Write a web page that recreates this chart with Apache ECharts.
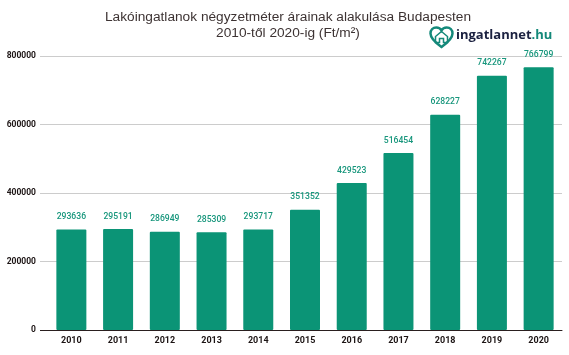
<!DOCTYPE html>
<html>
<head>
<meta charset="utf-8">
<script src="https://cdn.jsdelivr.net/npm/echarts@6/dist/echarts.min.js"></script>
<style>
  html, body { margin: 0; padding: 0; background: #fff; }
  #chart { width: 569px; height: 355px; }
</style>
</head>
<body>
<div id="chart"></div>
<script>
const years = ["2010", "2011", "2012", "2013", "2014", "2015", "2016", "2017", "2018", "2019", "2020"];
const prices = [293636, 295191, 286949, 285309, 293717, 351352, 429523, 516454, 628227, 742267, 766799];
const yTicks = [0, 200000, 400000, 600000, 800000];
const titleLines = ["Lakóingatlanok négyzetméter árainak alakulása Budapesten", "2010-től 2020-ig (Ft/m²)"];

// logo outlines
echarts.graphic.registerShape("logoHeart", echarts.graphic.extendPath(
  "M12 21C5 16 1 12 1 7.5C1 4 3.5 1.5 6.8 1.5C9 1.5 11 2.6 12 4.4C13 2.6 15 1.5 17.2 1.5C20.5 1.5 23 4 23 7.5C23 12 19 16 12 21Z", {}));
echarts.graphic.registerShape("logoHouse", echarts.graphic.extendPath(
  "M6 0L12 5V11H8V7H4V11H0V5Z", {}));

const chart = echarts.init(document.getElementById("chart"));
chart.setOption({
  animation: false,
  backgroundColor: "#fff",
  title: {
    text: titleLines.join("\n"),
    left: 283,
    top: 4,
    textAlign: "center",
    textStyle: {
      fontFamily: "Liberation Sans",
      fontSize: 13.7,
      fontWeight: "normal",
      color: "#3d3333",
      lineHeight: 16
    }
  },
  grid: { left: 48, right: 7, top: 56, bottom: 25, outerBoundsMode: "none" },
  xAxis: {
    type: "category",
    data: years,
    axisLine: { lineStyle: { color: "#2a1f1f", width: 1 } },
    axisTick: { show: false },
    axisLabel: {
      fontFamily: "Roboto",
      fontSize: 9,
      fontWeight: "bold",
      color: "#1c1414",
      margin: 6
    }
  },
  yAxis: [
    {
      type: "value",
      min: 0,
      max: 800000,
      interval: 200000,
      axisLine: { show: false },
      axisTick: { show: true, length: 8, lineStyle: { color: "#cccccc" } },
      axisLabel: {
        fontFamily: "Roboto",
        fontSize: 8.5,
        fontWeight: "bold",
        color: "#1c1414",
        margin: 12,
        customValues: yTicks,
        formatter: (v) => String(v)
      },
      splitLine: { lineStyle: { color: "#cccccc", width: 1 } }
    },
    {
      // only here to carry the baseline on to the left of the first band
      type: "value",
      position: "left",
      min: 0,
      max: 800000,
      axisLine: { show: false },
      axisLabel: { show: false },
      splitLine: { show: false },
      axisTick: { show: true, length: 8, customValues: [0], lineStyle: { color: "#2a1f1f" } }
    }
  ],
  series: [
    {
      type: "bar",
      data: prices,
      barWidth: 30,
      itemStyle: { color: "#0b9476", borderRadius: 1 },
      label: {
        show: true,
        position: "top",
        distance: 8,
        fontFamily: "Roboto",
        fontSize: 8.6,
        fontWeight: 500,
        color: "#17967c"
      }
    }
  ],
  graphic: [
    {
      type: "logoHeart",
      x: 429.5,
      y: 26,
      style: { fill: "none", stroke: "#14897a", lineWidth: 2.5 }
    },
    {
      type: "logoHouse",
      x: 435.5,
      y: 31.5,
      style: { fill: "none", stroke: "#14897a", lineWidth: 1.5 }
    },
    {
      type: "text",
      left: 456,
      top: 29,
      style: {
        text: "{a|ingatlannet}{b|.hu}",
        rich: {
          a: { fontFamily: "Open Sans", fontSize: 13, fontWeight: "bold", fill: "#1b2140" },
          b: { fontFamily: "Open Sans", fontSize: 13, fontWeight: "bold", fill: "#14897a" }
        }
      }
    }
  ]
});
window.addEventListener("resize", function () {
  chart.resize();
});
</script>
</body>
</html>
